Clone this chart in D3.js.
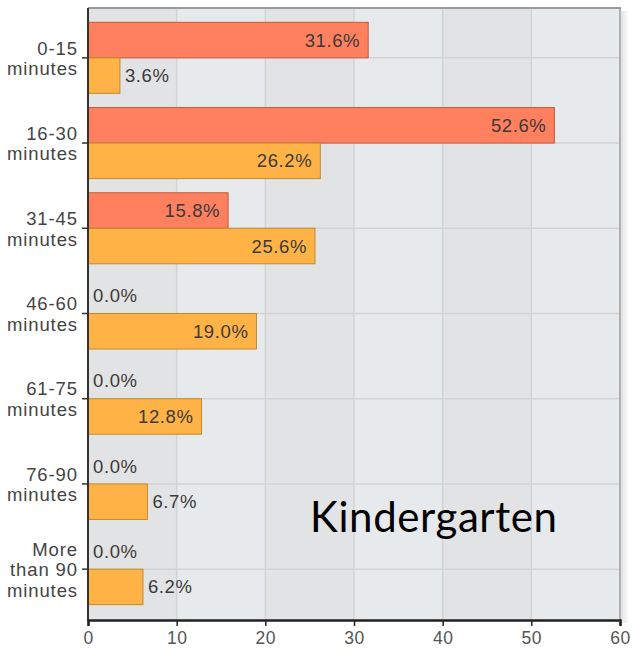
<!DOCTYPE html>
<html>
<head>
<meta charset="utf-8">
<script src="https://cdn.jsdelivr.net/npm/d3@7"></script>
<style>
  html, body { margin: 0; padding: 0; background: #fff; }
  svg { display: block; }
</style>
</head>
<body>
<svg class="main-svg" width="633" height="650"></svg>
<script>
'use strict'

// chart data
const categories = ['0-15 minutes', '16-30 minutes', '31-45 minutes', '46-60 minutes',
  '61-75 minutes', '76-90 minutes', 'More than 90 minutes']
const categoryLines = [['0-15', 'minutes'], ['16-30', 'minutes'], ['31-45', 'minutes'],
  ['46-60', 'minutes'], ['61-75', 'minutes'], ['76-90', 'minutes'], ['More', 'than 90', 'minutes']]
const redValues = [31.6, 52.6, 15.8, 0.0, 0.0, 0.0, 0.0]
const orangeValues = [3.6, 26.2, 25.6, 19.0, 12.8, 6.7, 6.2]
const xTicks = [0, 10, 20, 30, 40, 50, 60]
const note = 'Kindergarten'

;(function (d3) {
  const plot = { left: 88, right: 620, top: 8, bottom: 620 }
  const barH = 35.5

  const svg = d3.select('.main-svg')

  const x = d3.scaleLinear().domain([0, 60]).range([plot.left, plot.right])
  const y = d3.scalePoint().domain(categories).range([plot.top, plot.bottom - 1]).padding(0.585)
  const step = y.step()

  const defs = svg.append('defs')
  const sep = defs.append('linearGradient').attr('id', 'sep')
  sep.append('stop').attr('offset', '0%').attr('stop-color', '#888').attr('stop-opacity', 0)
  sep.append('stop').attr('offset', '50%').attr('stop-color', '#555').attr('stop-opacity', 1)
  sep.append('stop').attr('offset', '100%').attr('stop-color', '#888').attr('stop-opacity', 0.2)
  const shadow = defs.append('linearGradient').attr('id', 'shadow')
  shadow.append('stop').attr('offset', '0%').attr('stop-color', '#000').attr('stop-opacity', 0.12)
  shadow.append('stop').attr('offset', '100%').attr('stop-color', '#000').attr('stop-opacity', 0)

  // right shadow
  svg.append('rect')
    .attr('x', plot.right + 1).attr('y', plot.top + 3)
    .attr('width', 8).attr('height', plot.bottom - plot.top)
    .attr('fill', 'url(#shadow)')

  // background bands
  svg.append('g').selectAll('rect')
    .data(d3.range(6))
    .join('rect')
    .attr('x', d => x(d * 10))
    .attr('y', plot.top)
    .attr('width', d => x(d * 10 + 10) - x(d * 10))
    .attr('height', plot.bottom - plot.top)
    .attr('fill', d => d % 2 === 0 ? '#e2e3e5' : '#e7eaed')

  // grid
  const grid = svg.append('g').attr('stroke', '#d3d3d3').attr('stroke-width', 1.5)
  grid.selectAll('.vg')
    .data(xTicks.slice(1, -1))
    .join('line')
    .attr('x1', d => x(d)).attr('x2', d => x(d))
    .attr('y1', plot.top).attr('y2', plot.bottom)
  grid.selectAll('.hg')
    .data(categories)
    .join('line')
    .attr('x1', plot.left).attr('x2', plot.right)
    .attr('y1', d => y(d)).attr('y2', d => y(d))

  // frame top / right
  svg.append('line')
    .attr('x1', plot.left).attr('x2', plot.right + 1)
    .attr('y1', plot.top).attr('y2', plot.top)
    .attr('stroke', '#9a9a9a').attr('stroke-width', 2)
  svg.append('line')
    .attr('x1', plot.right).attr('x2', plot.right)
    .attr('y1', plot.top).attr('y2', plot.bottom)
    .attr('stroke', '#9a9a9a').attr('stroke-width', 1.5)

  // bars
  svg.append('g').selectAll('rect')
    .data(categories)
    .join('rect')
    .attr('x', x(0))
    .attr('y', d => y(d) - barH)
    .attr('width', (d, i) => x(redValues[i]) - x(0))
    .attr('height', barH)
    .attr('fill', '#ff805f')
    .attr('stroke', '#c8563b')
    .attr('stroke-width', 1)
    .attr('display', (d, i) => redValues[i] > 0 ? null : 'none')

  svg.append('g').selectAll('rect')
    .data(categories)
    .join('rect')
    .attr('x', x(0))
    .attr('y', d => y(d))
    .attr('width', (d, i) => x(orangeValues[i]) - x(0))
    .attr('height', barH)
    .attr('fill', '#ffb347')
    .attr('stroke', '#c08a30')
    .attr('stroke-width', 1)

  // value labels
  function addLabels (values, offset) {
    svg.append('g')
      .attr('font-family', 'Liberation Sans, Arial, sans-serif')
      .attr('font-size', 18.5)
      .attr('letter-spacing', 0.6)
      .attr('fill', '#3a3a3a')
      .selectAll('text')
      .data(categories)
      .join('text')
      .attr('x', (d, i) => values[i] >= 10 ? x(values[i]) - 8 : x(values[i]) + 5)
      .attr('y', d => y(d) + offset + 6.5)
      .attr('text-anchor', (d, i) => values[i] >= 10 ? 'end' : 'start')
      .text((d, i) => values[i].toFixed(1) + '%')
  }
  addLabels(redValues, -barH / 2)
  addLabels(orangeValues, barH / 2)

  // left axis
  svg.append('line')
    .attr('x1', plot.left).attr('x2', plot.left)
    .attr('y1', plot.top).attr('y2', plot.bottom + 1)
    .attr('stroke', '#333').attr('stroke-width', 2)
  svg.append('g').selectAll('line')
    .data(categories)
    .join('line')
    .attr('x1', plot.left - 6).attr('x2', plot.left)
    .attr('y1', d => y(d)).attr('y2', d => y(d))
    .attr('stroke', '#333').attr('stroke-width', 1.5)

  // row separators in label area
  svg.append('g').selectAll('line')
    .data(categories.slice(0, -1))
    .join('line')
    .attr('x1', 5).attr('x2', 84)
    .attr('y1', d => y(d) + step / 2).attr('y2', d => y(d) + step / 2)
    .attr('stroke', 'url(#sep)').attr('stroke-width', 1.5)

  // category labels
  const lineH = 20.5
  svg.append('g')
    .attr('font-family', 'Liberation Sans, Arial, sans-serif')
    .attr('font-size', 18.5)
    .attr('letter-spacing', 0.9)
    .attr('fill', '#444')
    .attr('text-anchor', 'end')
    .selectAll('text')
    .data(categories)
    .join('text')
    .attr('y', d => y(d))
    .each(function (d, i) {
      const lines = categoryLines[i]
      const first = 7 - (lines.length - 1) * lineH / 2
      d3.select(this).selectAll('tspan')
        .data(lines)
        .join('tspan')
        .attr('x', 78)
        .attr('y', (l, j) => y(d) + first + j * lineH)
        .text(l => l)
    })

  // bottom axis
  const xAxis = d3.axisBottom(x).tickValues(xTicks).tickSize(6).tickPadding(6)
  const ax = svg.append('g')
    .attr('transform', `translate(0,${plot.bottom})`)
    .call(xAxis)
  ax.select('.domain').attr('stroke', '#222').attr('stroke-width', 2.5)
  ax.selectAll('.tick line').attr('stroke', '#222').attr('stroke-width', 1.5)
  ax.selectAll('.tick text')
    .attr('font-family', 'Liberation Sans, Arial, sans-serif')
    .attr('font-size', 17.5)
    .attr('letter-spacing', 0.5)
    .attr('fill', '#555')

  // annotation
  svg.append('text')
    .attr('x', 310)
    .attr('y', 532)
    .attr('font-family', 'Lato, sans-serif')
    .attr('font-size', 42)
    .attr('textLength', 247)
    .attr('fill', '#000')
    .text(note)
})(d3)
</script>
</body>
</html>
